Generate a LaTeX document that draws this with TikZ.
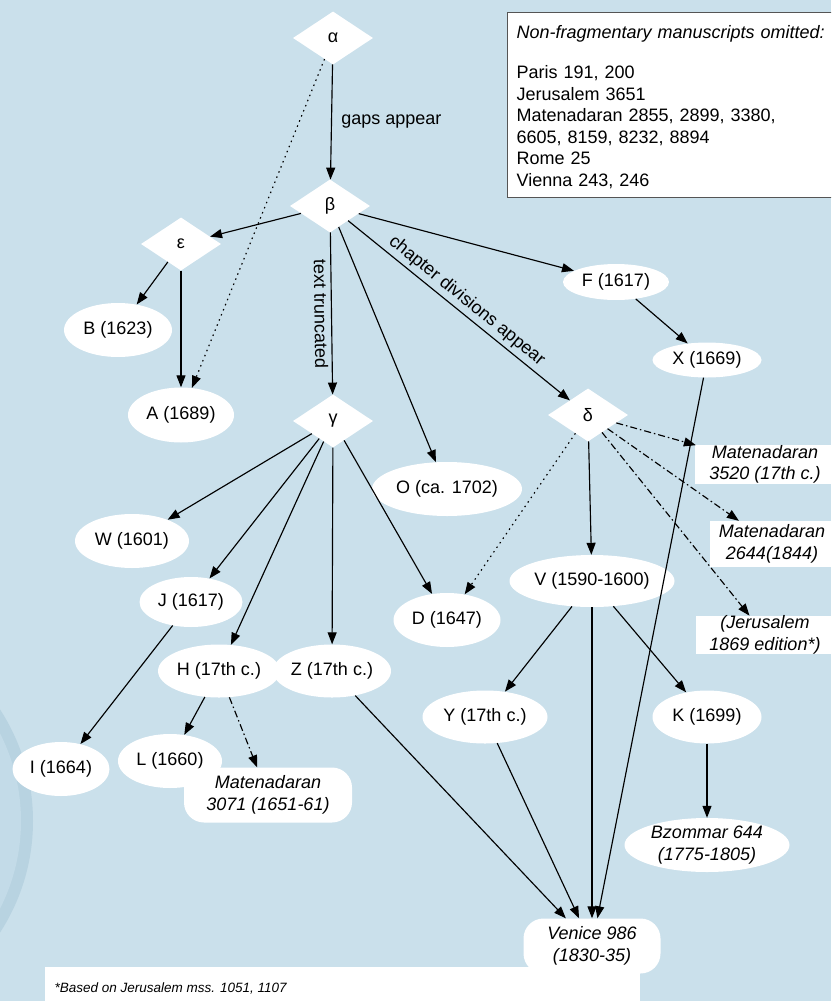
\documentclass[tikz,border=0pt]{standalone}
\usepackage{fontspec}
\setmainfont{Liberation Sans}
\usetikzlibrary{shapes.geometric,arrows.meta}
\definecolor{bgblue}{RGB}{202,224,235}
\definecolor{ringblue}{RGB}{184,211,225}
\definecolor{innerblue}{RGB}{195,219,232}
\definecolor{boxline}{RGB}{85,85,85}
\tikzset{
  every node/.style={font=\fontsize{18}{21.5}\selectfont},
  diam/.style={diamond, fill=white, minimum width=80pt, minimum height=53pt, inner sep=0pt},
  ell/.style={ellipse, fill=white, inner sep=0pt},
  itl/.style={font=\fontsize{18}{21.5}\selectfont\itshape, align=center},
  rbox/.style={rectangle, fill=white, inner sep=0pt, rounded corners=20pt},
  sbox/.style={rectangle, fill=white, inner sep=0pt},
  arr/.style={-{Triangle[length=12pt,width=9pt]}, line width=1.15pt},
  dotarr/.style={arr, dash pattern=on 1.5pt off 4pt},
  ddarr/.style={arr, dash pattern=on 7pt off 3pt on 1.5pt off 3pt},
}
\begin{document}
\begin{tikzpicture}[x=1pt,y=-1pt]
\useasboundingbox (0,0) rectangle (831,1001);
\path[clip] (0,0) rectangle (831,1001);
\fill[bgblue] (0,0) rectangle (831,1001);
% decorative circle at left edge
\fill[ringblue] (-172,821) circle[radius=205];
\fill[innerblue] (-172,821) circle[radius=193];
% footnote panel
\fill[white] (45,967) rectangle (640,1005);
\node[anchor=base west, font=\fontsize{13.5}{16}\selectfont\itshape] (foot) at (51,992) {*Based on Jerusalem mss. 1051, 1107};

% notes box
\node[anchor=north west, draw=boxline, line width=1.2pt, fill=white, text width=318pt, align=left, inner xsep=9pt, inner ysep=9pt] (notes) at (507,12)
 {\rule{0pt}{17pt}\textit{Non-fragmentary manuscripts omitted:}\\[18.6pt]
  Paris 191, 200\\
  Jerusalem 3651\\
  Matenadaran 2855, 2899, 3380,\\
  6605, 8159, 8232, 8894\\
  Rome 25\\
  Vienna 243, 246};

% diamonds
\node[diam] (alpha) at (333,38) {α};
\node[diam] (beta) at (330,206) {β};
\node[diam] (eps) at (181,244) {ε};
\node[diam] (gam) at (333,421) {γ};
\node[diam] (del) at (588,415) {δ};

% ellipses
\node[ell, minimum width=108pt, minimum height=54pt] (B) at (118,330) {B (1623)};
\node[ell, minimum width=106pt, minimum height=55pt] (A) at (181,415) {A (1689)};
\node[ell, minimum width=114pt, minimum height=54pt] (W) at (132,541) {W (1601)};
\node[ell, minimum width=150pt, minimum height=54pt] (O) at (447,489) {O (ca. 1702)};
\node[ell, minimum width=106pt, minimum height=36pt] (F) at (616,282) {F (1617)};
\node[ell, minimum width=109pt, minimum height=35pt] (X) at (707,360) {X (1669)};
\node[ell, minimum width=107pt, minimum height=54pt] (D) at (447,620) {D (1647)};
\node[ell, minimum width=165pt, minimum height=52pt] (V) at (592,581) {V (1590-1600)};
\node[ell, minimum width=103pt, minimum height=50pt] (J) at (191,602) {J (1617)};
\node[ell, minimum width=122pt, minimum height=53pt] (H) at (219,671) {H (17th c.)};
\node[ell, minimum width=118pt, minimum height=53pt] (Z) at (332,671) {Z (17th c.)};
\node[ell, minimum width=97pt, minimum height=54pt] (I) at (61,769) {I (1664)};
\node[ell, minimum width=104pt, minimum height=54pt] (L) at (170,761) {L (1660)};
\node[ell, minimum width=125pt, minimum height=53pt] (Y) at (485,717) {Y (17th c.)};
\node[ell, minimum width=109pt, minimum height=53pt] (K) at (707,717) {K (1699)};
\node[ell, itl, minimum width=165pt, minimum height=54pt] (Bz) at (707,845) {Bzommar 644\\(1775-1805)};

% rounded boxes
\node[rbox, itl, minimum width=168pt, minimum height=55pt] (M3071) at (268,795) {Matenadaran\\3071 (1651-61)};
\node[rbox, itl, minimum width=137pt, minimum height=55pt] (Ven) at (592,946) {Venice 986\\(1830-35)};

% square boxes at right edge
\node[sbox, itl, minimum width=140pt, minimum height=37pt] (M3520) at (765,464.5) {Matenadaran\\3520 (17th c.)};
\node[sbox, itl, minimum width=124pt, minimum height=46pt] (M2644) at (772,544) {Matenadaran\\2644(1844)};
\node[sbox, itl, minimum width=138pt, minimum height=36pt] (Jer) at (765,635) {(Jerusalem\\1869 edition*)};

% edges
\draw[arr] (alpha) -- node[right, xshift=6pt] {gaps appear} (beta);
\draw[dotarr] (alpha) -- (A);
\draw[arr] (beta) -- (eps);
\draw[arr] (eps) -- (B);
\draw[arr] (eps) -- (A);
\draw[arr] (beta) -- node[midway, sloped, below] {text truncated} (gam);
\draw[arr] (beta) -- (O);
\draw[arr] (beta) -- node[midway, sloped, above] {chapter divisions appear} (del);
\draw[arr] (beta) -- (F);
\draw[arr] (F) -- (X);
\draw[arr] (X) -- (Ven);
\draw[arr] (gam) -- (W);
\draw[arr] (gam) -- (J);
\draw[arr] (gam) -- (H);
\draw[arr] (gam) -- (Z);
\draw[arr] (gam) -- (D);
\draw[dotarr] (del) -- (D);
\draw[arr] (del) -- (V);
\draw[ddarr] (del) -- (M3520);
\draw[ddarr] (del) -- (M2644);
\draw[ddarr] (del) -- (Jer);
\draw[arr] (V) -- (Y);
\draw[arr] (V) -- (Ven);
\draw[arr] (V) -- (K);
\draw[arr] (Y) -- (Ven);
\draw[arr] (Z) -- (Ven);
\draw[arr] (K) -- (Bz);
\draw[arr] (J) -- (I);
\draw[arr] (H) -- (L);
\draw[ddarr] (H) -- (M3071);
\end{tikzpicture}
\end{document}
